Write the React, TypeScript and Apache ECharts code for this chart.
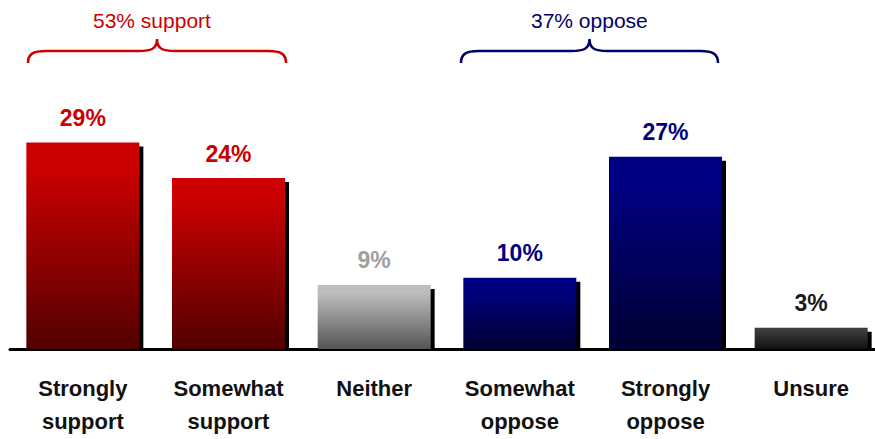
import React, { useEffect, useRef } from "react";
import * as echarts from "echarts";

const categories = [
  "Strongly\nsupport",
  "Somewhat\nsupport",
  "Neither",
  "Somewhat\noppose",
  "Strongly\noppose",
  "Unsure",
];
const values = [29, 24, 9, 10, 27, 3];
const groupLabels = ["53% support", "37% oppose"];

// styles per category group
const topColors = ["#cc0000", "#cc0000", "#bebebe", "#000085", "#000085", "#3c3c3c"];
const bottomColors = ["#520000", "#520000", "#555555", "#000033", "#000033", "#111111"];
const labelColors = ["#cc0000", "#cc0000", "#a0a0a0", "#000080", "#000080", "#1a1a1a"];

const RED = "#cc0000";
const NAVY = "#000066";

function bracePath(w: number): string {
  const h = w / 2;
  return (
    `M0 24 C0 15 5 12 18 12 L${h - 18} 12 C${h - 6} 12 ${h} 10 ${h} 0 ` +
    `C${h} 10 ${h + 6} 12 ${h + 18} 12 L${w - 18} 12 C${w - 5} 12 ${w} 15 ${w} 24`
  );
}

let registered = false;
function registerBraces() {
  if (registered) return;
  registered = true;
  echarts.graphic.registerShape("braceA", echarts.graphic.extendPath(bracePath(258), {}) as any);
  echarts.graphic.registerShape("braceB", echarts.graphic.extendPath(bracePath(257), {}) as any);
}

export default function App() {
  const ref = useRef<HTMLDivElement>(null);
  useEffect(() => {
    if (!ref.current) return;
    registerBraces();
    const chart = echarts.init(ref.current, null, { renderer: "svg" });
    const BW = 113;
    chart.setOption({
      animation: false,
      grid: { left: 10, width: 874, top: 64, bottom: 90 },
      xAxis: {
        type: "category",
        data: categories,
        axisTick: { show: false },
        axisLine: { lineStyle: { color: "#000", width: 3 } },
        axisLabel: {
          color: "#111",
          fontFamily: "Liberation Sans",
          fontWeight: "bold",
          fontSize: 22,
          lineHeight: 33,
          margin: 23,
          interval: 0,
        },
      },
      yAxis: { type: "value", min: 0, max: 40, show: false },
      series: [
        {
          type: "custom",
          data: values.map((v, i) => [i, v]),
          renderItem: (params: any, api: any) => {
            const idx = api.value(0);
            const val = api.value(1);
            const top = api.coord([idx, val]);
            const base = api.coord([idx, 0]);
            return {
              type: "rect",
              shape: {
                x: top[0] - BW / 2 + 4,
                y: top[1] + 4,
                width: BW,
                height: base[1] - top[1] - 4,
              },
              style: { fill: "#000" },
            };
          },
          silent: true,
        },
        {
          type: "bar",
          barWidth: BW,
          data: values.map((v, i) => ({
            value: v,
            itemStyle: {
              color: new echarts.graphic.LinearGradient(0, 0, 0, 1, [
                { offset: 0, color: topColors[i] },
                { offset: 0.12, color: topColors[i] },
                { offset: 1, color: bottomColors[i] },
              ]),
            },
            label: { color: labelColors[i] },
          })),
          label: {
            show: true,
            position: "top",
            distance: 13,
            formatter: "{c}%",
            fontFamily: "Liberation Sans",
            fontWeight: "bold",
            fontSize: 23,
          },
        },
      ],
      graphic: [
        {
          type: "text",
          left: 153 - 60,
          top: 10,
          style: {
            text: groupLabels[0],
            fill: RED,
            font: "21px 'Liberation Sans'",
          },
        },
        {
          type: "braceA",
          x: 28,
          y: 39,
          style: { stroke: RED, fill: null, lineWidth: 2.5 },
        },
        {
          type: "text",
          left: 589 - 58,
          top: 10,
          style: {
            text: groupLabels[1],
            fill: NAVY,
            font: "21px 'Liberation Sans'",
          },
        },
        {
          type: "braceB",
          x: 461,
          y: 39,
          style: { stroke: NAVY, fill: null, lineWidth: 2.5 },
        },
      ],
    });
    return () => chart.dispose();
  }, []);
  return (
    <div style={{ width: 875, height: 439, position: "absolute", left: 0, top: 0, overflow: "hidden" }}>
      <div ref={ref} style={{ width: 900, height: 439 }} />
    </div>
  );
}
